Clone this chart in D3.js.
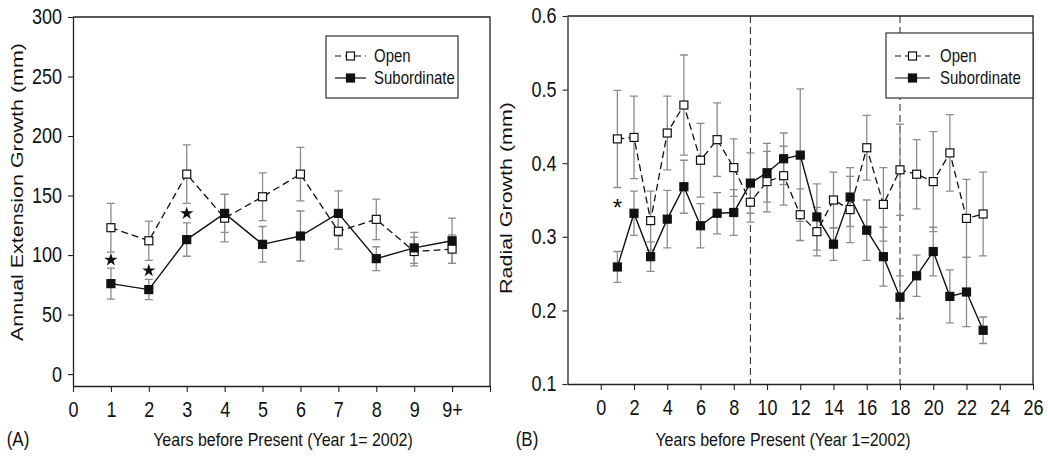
<!DOCTYPE html>
<html>
<head>
<meta charset="utf-8">
<script src="https://cdn.jsdelivr.net/npm/d3@7"></script>
<style>
  body { margin: 0; background: #fff; }
  svg { display: block; font-family: "Liberation Sans", Arial, sans-serif; }
</style>
</head>
<body>
<svg id="chart" width="1048" height="462"></svg>
<script>
// ---------- Panel A: annual extension growth ----------
const yearsA = [1, 2, 3, 4, 5, 6, 7, 8, 9, 10];
const xTickLabelsA = ["0", "1", "2", "3", "4", "5", "6", "7", "8", "9", "9+", ""];
const yTicksA = [0, 50, 100, 150, 200, 250, 300];
const openA = [123, 112, 168, 131, 149, 168, 120, 130, 103, 105];
const openErrA = [20.5, 16.5, 24.5, 20, 20, 22.5, 15, 17, 12, 12];
const subA = [76, 71, 113, 135, 109, 116, 135, 97, 106, 112];
const subErrA = [13, 8.5, 14, 16, 15, 21, 19, 10, 13, 19];
const starYearsA = [1, 2, 3];
const starLevelsA = [96, 87, 135];

// ---------- Panel B: radial growth ----------
const yearsB = d3.range(1, 24);
const xTicksB = d3.range(0, 27, 2);
const yTicksB = [0.1, 0.2, 0.3, 0.4, 0.5, 0.6];
const openB = [0.433, 0.435, 0.322, 0.441, 0.479, 0.404, 0.432, 0.394, 0.347, 0.375, 0.383, 0.330,
               0.307, 0.350, 0.337, 0.421, 0.344, 0.391, 0.385, 0.375, 0.414, 0.325, 0.331];
const openErrB = [0.066, 0.056, 0.040, 0.050, 0.068, 0.050, 0.050, 0.039, 0.027, 0.041, 0.040, 0.035,
                  0.033, 0.038, 0.045, 0.044, 0.050, 0.062, 0.047, 0.068, 0.052, 0.053, 0.057];
const subB = [0.259, 0.332, 0.273, 0.324, 0.368, 0.315, 0.332, 0.333, 0.373, 0.387, 0.406, 0.411,
              0.327, 0.290, 0.354, 0.309, 0.273, 0.218, 0.247, 0.280, 0.219, 0.225, 0.173];
const subErrB = [0.021, 0.030, 0.020, 0.039, 0.036, 0.030, 0.028, 0.031, 0.041, 0.040, 0.035, 0.090,
                 0.045, 0.022, 0.040, 0.041, 0.040, 0.029, 0.028, 0.033, 0.036, 0.047, 0.018];
const periodBreaksB = [9, 18];
const starYearsB = [1];
const starLevelsB = [0.343];

const seriesNames = ["Open", "Subordinate"];

const svg = d3.select("#chart");
const STRETCH = 1.2;          // type in this figure is drawn tall and narrow
const ERR_COLOR = "#8c8c8c";

function stretchTicks(sel) {
  sel.selectAll(".tick text").each(function () {
    const t = d3.select(this);
    const y = +t.attr("y") || 0;
    t.attr("y", y / STRETCH).attr("transform", `scale(1,${STRETCH})`);
  });
}

function label(x, y, str, size, anchor) {
  return svg.append("text")
    .attr("transform", `translate(${x},${y}) scale(1,${STRETCH})`)
    .attr("text-anchor", anchor || "middle")
    .attr("font-size", size)
    .attr("fill", "#111")
    .text(str);
}

function vLabel(x, y, str, size) {
  return svg.append("text")
    .attr("transform", `translate(${x},${y}) rotate(-90) scale(1.3,1)`)
    .attr("text-anchor", "middle")
    .attr("dominant-baseline", "central")
    .attr("font-size", size)
    .attr("fill", "#111")
    .text(str);
}

function drawPanel(cfg) {
  const { x, y, years, open, openErr, sub, subErr } = cfg;
  const g = svg.append("g");
  const [x0, x1] = x.range();
  const [y0, y1] = y.range();

  // frame: top and right edges
  g.append("path")
    .attr("d", `M${x0},${y1}H${x1}V${y0}`)
    .attr("fill", "none").attr("stroke", "#222").attr("stroke-width", 1.3);

  // axes
  const ax = g.append("g").attr("transform", `translate(0,${y0})`)
    .call(d3.axisBottom(x).tickValues(cfg.xTicks).tickFormat(cfg.xFormat)
      .tickSize(6).tickSizeOuter(0).tickPadding(10));
  const ay = g.append("g").attr("transform", `translate(${x0},0)`)
    .call(d3.axisLeft(y).tickValues(cfg.yTicks).tickFormat(cfg.yFormat)
      .tickSize(5).tickSizeOuter(0).tickPadding(6));
  [ax, ay].forEach(a => {
    a.select(".domain").attr("stroke", "#222").attr("stroke-width", 1.3);
    a.selectAll(".tick line").attr("stroke", "#222").attr("stroke-width", 1.1);
    a.selectAll(".tick text").attr("font-size", 18).attr("fill", "#111")
      .attr("font-family", "Liberation Sans, Arial, sans-serif");
    stretchTicks(a);
  });

  // vertical reference lines
  (cfg.breaks || []).forEach(b => {
    g.append("line")
      .attr("x1", x(b)).attr("x2", x(b)).attr("y1", y1).attr("y2", y0)
      .attr("stroke", "#222").attr("stroke-width", 1).attr("stroke-dasharray", "7,4");
  });

  // error bars
  const cap = 4;
  [[open, openErr], [sub, subErr]].forEach(([vals, errs]) => {
    const eb = g.append("g").attr("stroke", ERR_COLOR).attr("stroke-width", 1.3).attr("fill", "none");
    years.forEach((yr, i) => {
      const cx = x(yr), top = y(vals[i] + errs[i]), bot = y(vals[i] - errs[i]);
      eb.append("path").attr("d",
        `M${cx},${top}V${bot}M${cx - cap},${top}H${cx + cap}M${cx - cap},${bot}H${cx + cap}`);
    });
  });

  // series lines
  const line = d3.line().x((d, i) => x(years[i])).y(d => y(d));
  g.append("path").datum(open).attr("d", line)
    .attr("fill", "none").attr("stroke", "#111").attr("stroke-width", 1.3)
    .attr("stroke-dasharray", "7,4");
  g.append("path").datum(sub).attr("d", line)
    .attr("fill", "none").attr("stroke", "#111").attr("stroke-width", 1.4);

  // markers
  const s = 8;
  g.append("g").selectAll("rect").data(open).join("rect")
    .attr("x", (d, i) => x(years[i]) - s / 2).attr("y", d => y(d) - s / 2)
    .attr("width", s).attr("height", s)
    .attr("fill", "#fff").attr("stroke", "#111").attr("stroke-width", 1.2);
  g.append("g").selectAll("rect").data(sub).join("rect")
    .attr("x", (d, i) => x(years[i]) - s / 2).attr("y", d => y(d) - s / 2)
    .attr("width", s).attr("height", s)
    .attr("fill", "#111").attr("stroke", "#111").attr("stroke-width", 1.2);

  // legend
  const L = cfg.legend;
  g.append("rect").attr("x", L.x).attr("y", L.y).attr("width", L.w).attr("height", L.h)
    .attr("fill", "#fff").attr("stroke", "#333").attr("stroke-width", 1.2);
  seriesNames.forEach((name, k) => {
    const ly = L.y + L.row0 + k * L.gap;
    g.append("line").attr("x1", L.x + 9).attr("x2", L.x + 9 + L.sym).attr("y1", ly).attr("y2", ly)
      .attr("stroke", "#111").attr("stroke-width", 1.2)
      .attr("stroke-dasharray", k === 0 ? "6,4" : null);
    g.append("rect").attr("x", L.x + 9 + L.sym / 2 - 4).attr("y", ly - 4).attr("width", 8).attr("height", 8)
      .attr("fill", k === 0 ? "#fff" : "#111").attr("stroke", "#111").attr("stroke-width", 1.2);
    g.append("text")
      .attr("transform", `translate(${L.x + L.textDx},${ly}) scale(1,${STRETCH})`)
      .attr("dominant-baseline", "central").attr("font-size", 15).attr("fill", "#111")
      .text(name);
  });
}

// ----- Panel A -----
const xA = d3.scaleLinear().domain([0, 11]).range([73, 490]);
const yA = d3.scaleLinear().domain([-10, 300]).range([386, 17]);
drawPanel({
  x: xA, y: yA, years: yearsA,
  open: openA, openErr: openErrA, sub: subA, subErr: subErrA,
  xTicks: d3.range(0, 12), xFormat: i => xTickLabelsA[i],
  yTicks: yTicksA, yFormat: d3.format("d"),
  legend: { x: 326, y: 36, w: 132, h: 62, row0: 20, gap: 22, sym: 31, textDx: 48 }
});
// significance markers
svg.append("g").selectAll("path").data(starYearsA).join("path")
  .attr("transform", (d, i) => `translate(${xA(d)},${yA(starLevelsA[i])})`)
  .attr("d", d3.symbol(d3.symbolStar, 55))
  .attr("fill", "#111");

// ----- Panel B -----
const xB = d3.scaleLinear().domain([-2, 26]).range([567.5, 1033]);
const yB = d3.scaleLinear().domain([0.1, 0.6]).range([384, 16]);
drawPanel({
  x: xB, y: yB, years: yearsB,
  open: openB, openErr: openErrB, sub: subB, subErr: subErrB,
  xTicks: xTicksB, xFormat: d3.format("d"),
  yTicks: yTicksB, yFormat: d3.format(".1f"),
  breaks: periodBreaksB,
  legend: { x: 886, y: 33, w: 147, h: 65, row0: 23, gap: 22, sym: 35, textDx: 54 }
});
svg.append("g").selectAll("text").data(starYearsB).join("text")
  .attr("x", d => xB(d)).attr("y", (d, i) => yB(starLevelsB[i]) + 11)
  .attr("text-anchor", "middle").attr("font-size", 24).attr("fill", "#111")
  .text("*");

// ----- titles and panel letters -----
vLabel(17, 192, "Annual Extension Growth (mm)", 16.5);
vLabel(506, 198, "Radial Growth (mm)", 16.5);
label(283, 446, "Years before Present (Year 1= 2002)", 16);
label(783, 446, "Years before Present (Year 1=2002)", 16);
label(18, 446, "(A)", 17);
label(527, 446, "(B)", 17);
</script>
</body>
</html>
